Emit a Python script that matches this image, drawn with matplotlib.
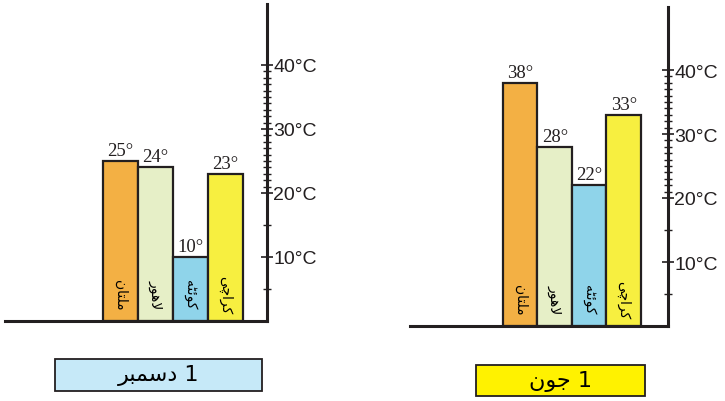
import matplotlib.pyplot as plt
from matplotlib.patches import Rectangle
from matplotlib.ticker import FixedLocator

# city names (Urdu, written as presentation forms in visual order)
cities = ['\ufee5\ufe8e\ufe98\ufee0\ufee3',        # ملتان
          '\ufead\ufeee\ufeeb\ufefb',              # لاهور
          '\ufeea\ufb69\ufe8b\ufeee\ufb90',        # کوئٹه
          '\ufbfd\ufb7c\ufe8d\ufeae\ufb90']        # کراچی
colors = ['#f3b044', '#e6efc7', '#8fd4ea', '#f7ef40']

dec_temps = [25, 24, 10, 23]
jun_temps = [38, 28, 22, 33]

dec_title = '\ufeae\ufe92\ufee4\ufeb3\ufea9 1'   # 1 دسمبر
jun_title = '\ufee5\ufeee\ufe9f 1'                 # 1 جون

major_ticks = [10, 20, 30, 40]
minor_ticks = [5, 15] + list(range(21, 40))
tick_labels = ['10°C', '20°C', '30°C', '40°C']

W, H = 725, 402
fig = plt.figure(figsize=(W / 100, H / 100), dpi=100)

ink = '#231f20'


def panel(px_left, px_right, px_base, px_top, first_bar_px, temps, xlim_units):
    ax = fig.add_axes([px_left / W, 1 - px_base / H,
                       (px_right - px_left) / W, (px_base - px_top) / H])
    scale = 6.4  # pixels per degree
    ax.set_ylim(0, (px_base - px_top) / scale)
    bar_px = (px_right - px_left) / xlim_units
    left = -0.5 - first_bar_px / bar_px
    ax.set_xlim(left, left + xlim_units)
    x = range(len(temps))
    ax.bar(x, temps, width=1.0, color=colors, edgecolor=ink, linewidth=1.6, zorder=2)
    for i, v in enumerate(temps):
        ax.text(i, v + 0.3, f'{v}°', ha='center', va='bottom', fontsize=13.5,
                family='Liberation Serif', color=ink, zorder=3)
        ax.text(i, 4.2, cities[i], rotation=-90, ha='center', va='center',
                fontsize=10, family='DejaVu Sans', color='black', zorder=3)
    for s in ['left', 'top']:
        ax.spines[s].set_visible(False)
    ax.spines['bottom'].set_linewidth(2.2)
    ax.spines['right'].set_linewidth(2.2)
    ax.spines['bottom'].set_color(ink)
    ax.spines['right'].set_color(ink)
    ax.set_xticks([])
    ax.yaxis.tick_right()
    ax.yaxis.set_major_locator(FixedLocator(major_ticks))
    ax.yaxis.set_minor_locator(FixedLocator(minor_ticks))
    ax.set_yticklabels(tick_labels)
    ax.tick_params(axis='y', which='major', direction='inout', length=9, width=1.2,
                   labelsize=14, pad=0, colors=ink)
    ax.tick_params(axis='y', which='minor', direction='inout', length=6, width=1.0,
                   colors=ink)
    for lab in ax.get_yticklabels():
        lab.set_family('Liberation Sans')
    ax.patch.set_alpha(0)
    return ax


panel(5, 267, 322, 5, 98, dec_temps, 7.5)
panel(410, 668, 327, 8, 93, jun_temps, 7.48)


def title_box(x0, y0, x1, y1, face, label):
    fig.patches.append(Rectangle((x0 / W, 1 - y1 / H), (x1 - x0) / W, (y1 - y0) / H,
                                 transform=fig.transFigure, facecolor=face,
                                 edgecolor=ink, linewidth=1.3))
    fig.text((x0 + x1) / 2 / W, 1 - (y0 + y1) / 2 / H, label, ha='center', va='center',
             fontsize=16, family='DejaVu Sans', color='black')


title_box(55, 360, 262, 392, '#c6e9f8', dec_title)
title_box(476, 366, 645, 397, '#fff200', jun_title)

fig.savefig('out.png', dpi=100)
